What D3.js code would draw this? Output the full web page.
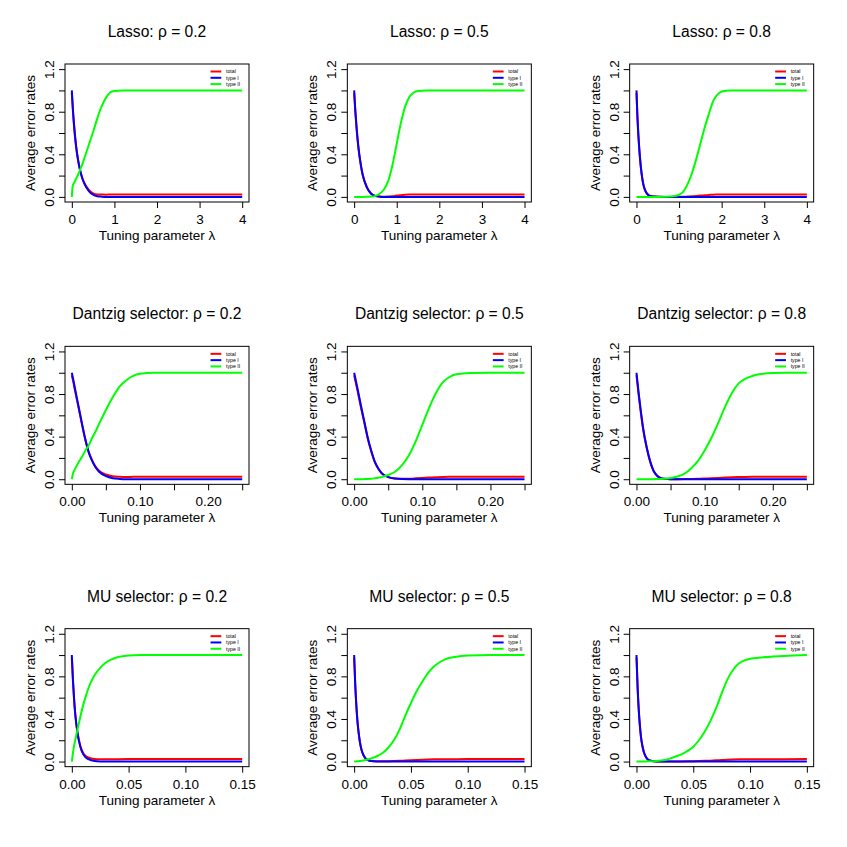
<!DOCTYPE html>
<html><head><meta charset="utf-8">
<script src="https://cdn.jsdelivr.net/npm/d3@7"></script>
<style>body{margin:0;background:#fff} svg{display:block;font-family:"Liberation Sans",Arial,Helvetica,sans-serif}</style>
</head><body><svg id="c" width="847" height="847"></svg>
<script>
// ---------- Panel grid / labels ----------
const methods = ["Lasso", "Dantzig selector", "MU selector"];
const rhos = ["0.2", "0.5", "0.8"];
const xMaxes = [4, 0.25, 0.15];
const xTickValues = [[0,1,2,3,4],[0,0.05,0.1,0.15,0.2,0.25],[0,0.05,0.1,0.15]];
const xTickLabels = [["0","1","2","3","4"],["0.00","","0.10","","0.20",""],["0.00","0.05","0.10","0.15"]];
const yTickValues = [0,0.2,0.4,0.6,0.8,1.0,1.2];
const yTickLabels = ["0.0","","0.4","","0.8","","1.2"];
const seriesNames = ["total","type I","type II"];
const seriesColors = ["#FF0000","#0000FF","#00FF00"];

// ---------- Lasso rho=0.2 ----------
const lam1 = [0,0.02,0.05,0.1,0.15,0.2,0.25,0.3,0.4,0.5,0.6,0.7,0.8,0.9,1.0,1.2,1.5,2,3,4];
const total1 = [0.977,0.842,0.677,0.473,0.337,0.240,0.173,0.126,0.065,0.034,0.023,0.022,0.021,0.0225,0.023,0.023,0.023,0.023,0.023,0.023];
const typeI1 = [1.0,0.86,0.69,0.48,0.34,0.24,0.17,0.12,0.055,0.02,0.006,0.002,0,0,0,0,0,0,0,0];
const typeII1 = [0,0.1,0.13,0.17,0.21,0.26,0.31,0.37,0.49,0.61,0.74,0.85,0.93,0.98,0.995,1,1,1,1,1];

// ---------- Lasso rho=0.5 ----------
const lam2 = [0,0.03,0.06,0.1,0.15,0.2,0.3,0.4,0.5,0.6,0.7,0.8,0.9,1.0,1.1,1.2,1.3,1.4,1.5,1.7,2,3,4];
const total2 = [0.977,0.782,0.625,0.459,0.313,0.205,0.088,0.029,0.008,0.003,0.002,0.003,0.007,0.012,0.016,0.020,0.022,0.023,0.023,0.023,0.023,0.023,0.023];
const typeI2 = [1.0,0.8,0.64,0.47,0.32,0.21,0.09,0.03,0.008,0.002,0,0,0,0,0,0,0,0,0,0,0,0,0];
const typeII2 = [0,0,0,0,0,0,0.001,0.003,0.01,0.03,0.07,0.15,0.3,0.5,0.7,0.85,0.94,0.98,0.995,1,1,1,1];

// ---------- Lasso rho=0.8 ----------
const lam3 = [0,0.02,0.05,0.08,0.12,0.16,0.2,0.25,0.3,0.4,0.5,0.7,0.9,1.0,1.1,1.2,1.3,1.4,1.5,1.6,1.7,1.8,1.9,2.0,2.2,2.5,3,4];
const total3 = [0.977,0.762,0.537,0.371,0.215,0.117,0.064,0.029,0.012,0.003,0.001,0,0,0.0005,0.001,0.003,0.005,0.008,0.012,0.015,0.018,0.021,0.022,0.023,0.023,0.023,0.023,0.023];
const typeI3 = [1,0.78,0.55,0.38,0.22,0.12,0.065,0.03,0.012,0.003,0.001,0,0,0,0,0,0,0,0,0,0,0,0,0,0,0,0,0];
const typeII3 = [0,0,0,0,0,0,0,0,0,0,0,0.001,0.008,0.02,0.05,0.12,0.22,0.35,0.5,0.65,0.78,0.9,0.96,0.99,1,1,1,1];

// ---------- Dantzig rho=0.2 ----------
const lam4 = [0,0.002,0.005,0.01,0.015,0.02,0.025,0.03,0.035,0.04,0.05,0.06,0.07,0.08,0.09,0.1,0.12,0.15,0.2,0.25];
const total4 = [0.977,0.920,0.823,0.668,0.513,0.367,0.251,0.175,0.117,0.080,0.044,0.027,0.023,0.0214,0.0223,0.0228,0.023,0.023,0.023,0.023];
const typeI4 = [1,0.94,0.84,0.68,0.52,0.37,0.25,0.17,0.11,0.07,0.03,0.01,0.003,0,0,0,0,0,0,0];
const typeII4 = [0,0.06,0.1,0.16,0.21,0.27,0.32,0.39,0.45,0.52,0.65,0.77,0.87,0.93,0.97,0.99,1,1,1,1];

// ---------- Dantzig rho=0.5 ----------
const lam5 = [0,0.005,0.01,0.015,0.02,0.025,0.03,0.035,0.04,0.045,0.05,0.06,0.07,0.08,0.09,0.1,0.11,0.12,0.13,0.14,0.15,0.17,0.2,0.25];
const total5 = [0.977,0.830,0.674,0.528,0.381,0.264,0.166,0.103,0.059,0.035,0.020,0.0075,0.004,0.005,0.008,0.0117,0.0154,0.0186,0.0209,0.0221,0.0227,0.023,0.023,0.023];
const typeI5 = [1,0.85,0.69,0.54,0.39,0.27,0.17,0.105,0.06,0.035,0.02,0.006,0.001,0,0,0,0,0,0,0,0,0,0,0];
const typeII5 = [0,0,0,0.001,0.002,0.004,0.008,0.013,0.02,0.03,0.04,0.07,0.13,0.22,0.35,0.51,0.67,0.81,0.91,0.96,0.985,0.998,1,1];

// ---------- Dantzig rho=0.8 ----------
const lam6 = [0,0.003,0.006,0.01,0.015,0.02,0.025,0.03,0.035,0.04,0.05,0.06,0.07,0.08,0.09,0.1,0.11,0.12,0.13,0.14,0.15,0.16,0.17,0.18,0.2,0.22,0.25];
const total6 = [0.977,0.801,0.645,0.459,0.293,0.166,0.078,0.034,0.012,0.004,0.0003,0.0006,0.0012,0.0023,0.0039,0.0062,0.009,0.0122,0.0156,0.0186,0.0207,0.0217,0.0223,0.0227,0.023,0.023,0.023];
const typeI6 = [1,0.82,0.66,0.47,0.3,0.17,0.08,0.035,0.012,0.004,0,0,0,0,0,0,0,0,0,0,0,0,0,0,0,0,0];
const typeII6 = [0,0,0,0,0,0,0,0.002,0.003,0.005,0.012,0.025,0.05,0.1,0.17,0.27,0.39,0.53,0.68,0.81,0.9,0.945,0.97,0.985,0.997,1,1];

// ---------- MU rho=0.2 ----------
const lam7 = [0,0.001,0.002,0.003,0.005,0.0075,0.01,0.0125,0.015,0.02,0.025,0.03,0.035,0.04,0.05,0.06,0.08,0.1,0.15];
const total7 = [0.977,0.754,0.580,0.444,0.271,0.147,0.080,0.050,0.036,0.024,0.021,0.0214,0.0221,0.0225,0.0229,0.023,0.023,0.023,0.023];
const typeI7 = [1,0.77,0.59,0.45,0.27,0.14,0.07,0.037,0.02,0.005,0.001,0,0,0,0,0,0,0,0];
const typeII7 = [0,0.08,0.15,0.2,0.3,0.42,0.53,0.62,0.7,0.81,0.88,0.93,0.96,0.98,0.995,1,1,1,1];

// ---------- MU rho=0.5 ----------
const lam8 = [0,0.001,0.002,0.003,0.004,0.005,0.0065,0.008,0.01,0.0125,0.015,0.02,0.025,0.03,0.035,0.04,0.045,0.05,0.055,0.06,0.065,0.07,0.075,0.08,0.09,0.1,0.12,0.15];
const total8 = [0.977,0.703,0.508,0.362,0.264,0.186,0.108,0.064,0.030,0.012,0.0056,0.0021,0.0018,0.003,0.0046,0.0069,0.0099,0.0127,0.0152,0.0173,0.0191,0.0205,0.0214,0.0221,0.0227,0.0229,0.023,0.023];
const typeI8 = [1,0.72,0.52,0.37,0.27,0.19,0.11,0.065,0.03,0.012,0.005,0.001,0,0,0,0,0,0,0,0,0,0,0,0,0,0,0,0];
const typeII8 = [0,0.001,0.002,0.003,0.004,0.005,0.007,0.01,0.015,0.022,0.03,0.05,0.08,0.13,0.2,0.3,0.43,0.55,0.66,0.75,0.83,0.89,0.93,0.96,0.985,0.995,1,1];

// ---------- MU rho=0.8 ----------
const lam9 = [0,0.001,0.002,0.003,0.004,0.005,0.0065,0.008,0.01,0.0125,0.015,0.02,0.025,0.03,0.035,0.04,0.045,0.05,0.055,0.06,0.065,0.07,0.075,0.08,0.085,0.09,0.095,0.1,0.11,0.12,0.13,0.15];
const total9 = [0.977,0.684,0.479,0.332,0.225,0.156,0.088,0.049,0.020,0.008,0.003,0.0002,0.0003,0.0007,0.0012,0.0016,0.0023,0.0032,0.0046,0.0064,0.0087,0.0115,0.0147,0.0177,0.0198,0.0212,0.0219,0.0222,0.0225,0.0227,0.0228,0.023];
const typeI9 = [1,0.7,0.49,0.34,0.23,0.16,0.09,0.05,0.02,0.008,0.003,0,0,0,0,0,0,0,0,0,0,0,0,0,0,0,0,0,0,0,0,0];
const typeII9 = [0,0,0,0,0,0,0,0,0.002,0.003,0.004,0.008,0.015,0.03,0.05,0.07,0.1,0.14,0.2,0.28,0.38,0.5,0.64,0.77,0.86,0.92,0.95,0.965,0.978,0.986,0.992,1];

const panelData = [
  [lam1,total1,typeI1,typeII1],[lam2,total2,typeI2,typeII2],[lam3,total3,typeI3,typeII3],
  [lam4,total4,typeI4,typeII4],[lam5,total5,typeI5,typeII5],[lam6,total6,typeI6,typeII6],
  [lam7,total7,typeI7,typeII7],[lam8,total8,typeI8,typeII8],[lam9,total9,typeI9,typeII9]
];

// ---------- Drawing ----------
const svg = d3.select("#c");
svg.append("rect").attr("width",847).attr("height",847).attr("fill","#fff");
const cell = 847/3;
const box = {l:65, r:249, t:64, b:202};

for (let row = 0; row < 3; row++) {
  for (let col = 0; col < 3; col++) {
    const ox = col*cell, oy = row*cell;
    const g = svg.append("g").attr("transform", `translate(${ox},${oy})`);
    const xmax = xMaxes[row];
    const x = d3.scaleLinear().domain([-0.04*xmax, 1.04*xmax]).range([box.l, box.r]);
    const y = d3.scaleLinear().domain([-0.048, 1.248]).range([box.b, box.t]);

    // title
    g.append("text").attr("x",(box.l+box.r)/2).attr("y",37).attr("text-anchor","middle")
      .attr("font-size","15.6px").attr("fill","#000")
      .text(`${methods[row]}: ρ = ${rhos[col]}`);

    // x axis
    const xa = g.append("g").attr("transform",`translate(0,${box.b})`)
      .call(d3.axisBottom(x).tickValues(xTickValues[row]).tickSize(6).tickSizeOuter(0)
        .tickFormat((d,i)=>xTickLabels[row][i]));
    xa.select(".domain").remove();
    xa.selectAll(".tick line").attr("stroke","#000");
    xa.selectAll(".tick text").attr("y",22).attr("dy",null).attr("font-size","13.5px")
      .attr("font-family","Liberation Sans, Arial, sans-serif").attr("fill","#000");

    // y axis
    const ya = g.append("g").attr("transform",`translate(${box.l},0)`)
      .call(d3.axisLeft(y).tickValues(yTickValues).tickSize(6).tickSizeOuter(0)
        .tickFormat((d,i)=>yTickLabels[i]));
    ya.select(".domain").remove();
    ya.selectAll(".tick line").attr("stroke","#000");
    ya.selectAll(".tick text").attr("transform","rotate(-90)").attr("x",0).attr("y",-11)
      .attr("dy",null).attr("text-anchor","middle").attr("font-size","13.5px")
      .attr("font-family","Liberation Sans, Arial, sans-serif").attr("fill","#000");

    // axis titles
    g.append("text").attr("x",(box.l+box.r)/2).attr("y",240).attr("text-anchor","middle")
      .attr("font-size","13.5px").attr("fill","#000").text("Tuning parameter λ");
    g.append("text").attr("transform",`translate(35,${(box.t+box.b)/2}) rotate(-90)`)
      .attr("text-anchor","middle").attr("font-size","13.5px").attr("fill","#000")
      .text("Average error rates");

    // lines
    const pd = panelData[row*3+col];
    const lam = pd[0];
    const line = d3.line().x((d,i)=>x(lam[i])).y(d=>y(d)).curve(d3.curveMonotoneX);
    for (let s = 0; s < 3; s++) {
      g.append("path").datum(pd[s+1]).attr("d", line).attr("fill","none")
        .attr("stroke", seriesColors[s]).attr("stroke-width",2);
    }

    // box
    g.append("rect").attr("x",box.l).attr("y",box.t).attr("width",box.r-box.l).attr("height",box.b-box.t)
      .attr("fill","none").attr("stroke","#000").attr("stroke-width",1);

    // legend
    const lg = g.append("g");
    seriesNames.forEach((nm, i) => {
      const ly = 71.5 + i*6.3;
      lg.append("line").attr("x1",210.5).attr("x2",221.3).attr("y1",ly).attr("y2",ly)
        .attr("stroke",seriesColors[i]).attr("stroke-width",2);
      lg.append("text").attr("x",226).attr("y",ly+1.8).attr("font-size","5.2px").attr("fill","#000")
        .text(nm);
    });
  }
}
</script>
</body></html>
